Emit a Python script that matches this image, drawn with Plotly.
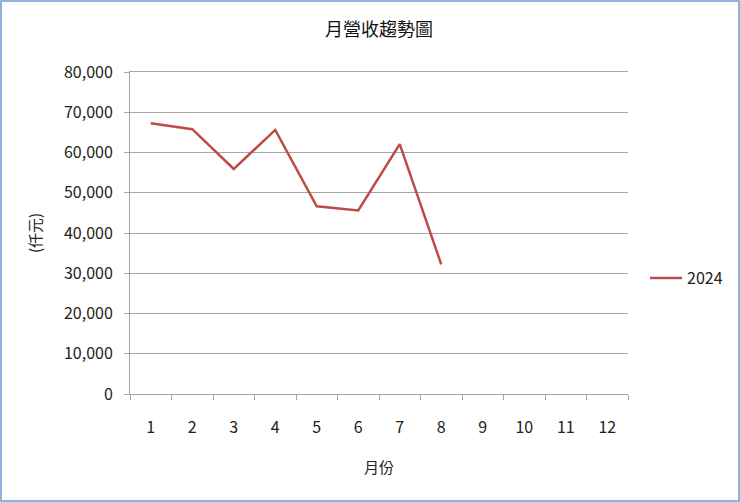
import plotly.graph_objects as go

# monthly revenue (thousand NTD), only Jan-Aug available
months = [str(m) for m in range(1, 13)]
revenue_2024 = [67250, 65800, 55900, 65600, 46650, 45600, 62100, 32200]
series_name = "2024"

y_ticks = list(range(0, 80001, 10000))

W, H = 740, 502
L, R, T, B = 130, 112, 72, 108
pw, ph = W - L - R, H - T - B

fig = go.Figure()
fig.add_trace(go.Scatter(
    x=months[:len(revenue_2024)], y=revenue_2024, name=series_name,
    mode="lines", line=dict(color="#BE4B48", width=2.5),
))
# empty trace so the category axis keeps all 12 months
fig.add_trace(go.Scatter(x=months, y=[None] * len(months), showlegend=False,
                         hoverinfo="skip"))

font = "Noto Sans CJK TC, Noto Sans, sans-serif"
grey = "#A6A6A6"
fig.update_layout(
    width=W, height=H,
    margin=dict(l=L, r=R, t=T, b=B, autoexpand=False),
    paper_bgcolor="white", plot_bgcolor="white",
    font=dict(family=font, size=16, color="#222"),
    title=dict(text="月營收趨勢圖", x=0.5, xref="paper", y=1 - 30 / H,
               yanchor="middle", font=dict(size=18, color="#111")),
    showlegend=True,
    # legend sits a bit below the middle, like the Excel original
    legend=dict(x=(645 - L) / pw, y=0.36,
                xanchor="left", yanchor="middle",
                font=dict(size=16), itemwidth=32, tracegroupgap=0),
    xaxis=dict(
        type="category", categoryorder="array", categoryarray=months,
        range=[-0.5, len(months) - 0.5],
        tickson="boundaries", ticks="outside", ticklen=5, tickcolor=grey,
        showline=True, linecolor=grey, linewidth=1, mirror=True,
        showgrid=False, ticklabelstandoff=19, automargin=False,
        title=dict(text="月份", standoff=25, font=dict(size=15)),
    ),
    yaxis=dict(
        range=[0, 80000], tickvals=y_ticks, tickformat=",d",
        ticks="outside", ticklen=5, tickcolor=grey,
        showline=True, linecolor=grey, linewidth=1,
        showgrid=True, gridcolor=grey, gridwidth=1,
        zeroline=False, ticklabelstandoff=8, automargin=False,
        title=dict(text="(仟元)", standoff=18, font=dict(size=15)),
    ),
)

# outer chart border
fig.add_shape(type="rect", xref="paper", yref="paper",
              x0=(1 - L) / pw, x1=(W - 1 - L) / pw,
              y0=(1 - B) / ph, y1=(H - 1 - B) / ph,
              line=dict(color="#6A9AD4", width=1.5), layer="below")

fig.write_html("out.html", config={"displayModeBar": False},
               post_script="document.body.style.margin='0';")
